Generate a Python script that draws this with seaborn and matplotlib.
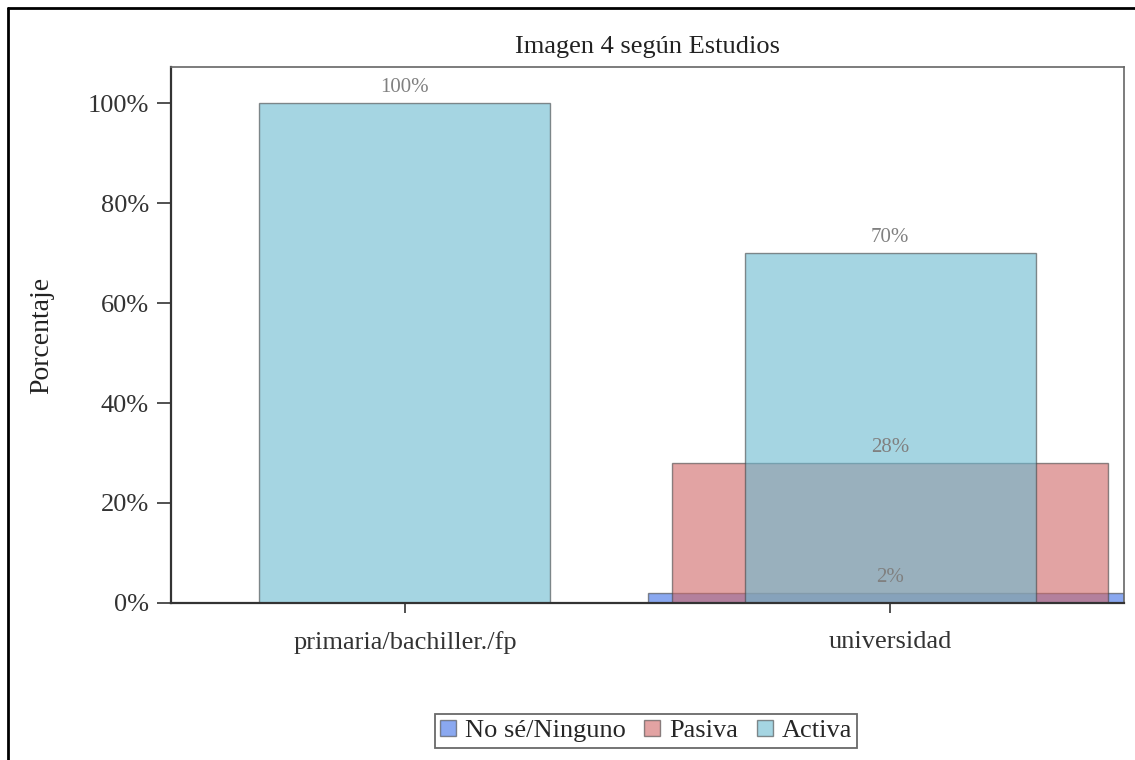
import pandas as pd
import matplotlib
matplotlib.use("Agg")
import matplotlib.pyplot as plt
import seaborn as sns
from matplotlib.patches import Patch
from matplotlib.lines import Line2D

estudios = ["primaria/bachiller./fp", "universidad"]
respuestas = ["No sé/Ninguno", "Pasiva", "Activa"]
# porcentaje por respuesta y nivel de estudios (None = sin barra)
no_se = [None, 2]
pasiva = [None, 28]
activa = [100, 70]
etiquetas_y = ["0%", "20%", "40%", "60%", "80%", "100%"]

rows = []
for resp, vals in zip(respuestas, [no_se, pasiva, activa]):
    for est, v in zip(estudios, vals):
        if v is not None:
            rows.append({"estudios": est, "respuesta": resp, "pct": v})
df = pd.DataFrame(rows)

sns.set_style("white")
plt.rcParams["font.family"] = ["Liberation Serif", "DejaVu Serif"]

colores = {"No sé/Ninguno": "#3c6ee6", "Pasiva": "#cf6666", "Activa": "#69b9d0"}
anchos = {"No sé/Ninguno": 1.0, "Pasiva": 0.9, "Activa": 0.6}

fig = plt.figure(figsize=(11.35, 7.6), dpi=100)
ax = fig.add_axes([0.1507, 0.2066, 0.8396, 0.7052])

for resp in respuestas:
    sub = df[df["respuesta"] == resp]
    n0 = len(ax.containers)
    sns.barplot(data=sub, x="estudios", y="pct", order=estudios, width=anchos[resp],
                color=colores[resp], alpha=0.6, saturation=1, edgecolor="#444444",
                linewidth=1.0, errorbar=None, ax=ax)
    cont = ax.containers[n0]
    labs = [f"{v:.0f}%" if v == v and v > 0 else "" for v in cont.datavalues]
    ax.bar_label(cont, labels=labs, padding=4, fontsize=15, color="#808080")

ax.set_xlim(-0.482, 1.482)
ax.set_ylim(0, 107.2)
ax.set_yticks([0, 20, 40, 60, 80, 100])
ax.set_yticklabels(etiquetas_y)
ax.tick_params(axis="both", labelsize=19, colors="#333333", width=1.2,
               direction="out", left=True, bottom=True)
ax.tick_params(axis="y", length=10, pad=6)
ax.tick_params(axis="x", length=7, pad=13)
ax.set_xlabel("")
ax.set_ylabel("Porcentaje", fontsize=20, color="#222222", labelpad=24)
ax.set_title("Imagen 4 según Estudios", fontsize=19, color="#222222", pad=10)

for s in ["left", "bottom"]:
    ax.spines[s].set_color("#333333")
    ax.spines[s].set_linewidth(1.6)
for s in ["top", "right"]:
    ax.spines[s].set_color("#666666")
    ax.spines[s].set_linewidth(1.2)

handles = [Patch(facecolor=colores[r], alpha=0.6, edgecolor="#444444") for r in respuestas]
leg = fig.legend(handles, respuestas, loc="center", bbox_to_anchor=(646 / 1135, 1 - 731 / 760),
                 ncol=3, frameon=True, fontsize=19, handlelength=0.6, handleheight=0.6,
                 handletextpad=0.35, columnspacing=0.7, borderpad=0.2, fancybox=False)
leg.get_frame().set_edgecolor("#444444")
leg.get_frame().set_linewidth(1.3)

# borde de la figura (arriba e izquierda)
fig.add_artist(Line2D([8 / 1135, 1], [1 - 8 / 760, 1 - 8 / 760], color="black", lw=2,
                      transform=fig.transFigure))
fig.add_artist(Line2D([8 / 1135, 8 / 1135], [0, 1 - 8 / 760], color="black", lw=2,
                      transform=fig.transFigure))

fig.savefig("out.png", dpi=100)
